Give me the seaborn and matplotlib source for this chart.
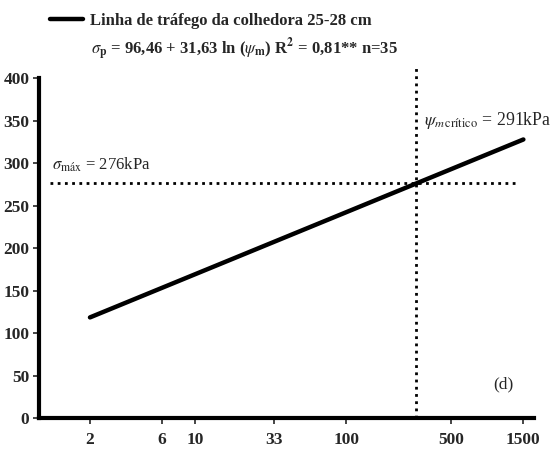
import numpy as np
import pandas as pd
import matplotlib
matplotlib.use("Agg")
import matplotlib.pyplot as plt
import seaborn as sns

# DATA
psi_m = [2, 1500]                 # kPa, ends of the fitted line
sigma_p = [118.4, 327.8]          # kPa
sigma_max = 276
psi_crit = 291
x_ticks = [2, 6, 10, 33, 100, 500, 1500]
y_ticks = [0, 50, 100, 150, 200, 250, 300, 350, 400]

df = pd.DataFrame({"psi": psi_m, "sigma": sigma_p})

sns.set_style("white")
plt.rcParams["font.family"] = ["Liberation Serif", "DejaVu Serif"]
plt.rcParams["mathtext.fontset"] = "stix"

fig = plt.figure(figsize=(5.59, 4.49), dpi=100)
ax = fig.add_axes([0.070, 0.069, 0.885, 0.757])

sns.lineplot(data=df, x="psi", y="sigma", ax=ax, color="black", lw=3.2,
             label="Linha de tráfego da colhedora 25-28 cm")
ax.set_xscale("log")
ax.set_xlim(0.92, 1760)
ax.set_ylim(0, 400)

# dotted reference lines
ax.hlines(sigma_max, 1.08, 1410, colors="black", linestyles=(0, (1, 1.6)), lw=2)
ax.vlines(psi_crit, 0, 414, colors="black", linestyles=(0, (1, 1.6)), lw=2, clip_on=False)

ax.set_xticks(x_ticks)
ax.set_xticklabels([str(t) for t in x_ticks])
ax.xaxis.set_minor_locator(matplotlib.ticker.NullLocator())
ax.set_yticks(y_ticks)
ax.tick_params(axis="both", direction="out", length=4, width=1.2, labelsize=12.5,
               bottom=True, left=True)
for lab in ax.get_xticklabels() + ax.get_yticklabels():
    lab.set_fontweight("bold")
ax.tick_params(axis="x", pad=6)
ax.tick_params(axis="y", pad=3)
ax.set_xlabel("")
ax.set_ylabel("")

for s in ["top", "right"]:
    ax.spines[s].set_visible(False)
for s in ["left", "bottom"]:
    ax.spines[s].set_linewidth(3)
    ax.spines[s].set_color("black")

ax.text(1.12, 292, r"$\sigma_{\mathrm{máx}}$ = 276kPa", fontsize=12)
ax.text(330, 345, r"$\psi_{m\,\mathrm{crítico}}$ = 291kPa", fontsize=12.8)
ax.text(940, 35, "(d)", fontsize=12.5)

leg = ax.legend(loc="upper left", bbox_to_anchor=(0.062, 1.005), bbox_transform=fig.transFigure,
                frameon=False, handlelength=2.0, handletextpad=0.45,
                prop={"weight": "bold", "size": 12})

fig.text(0.163, 0.878,
         r"$\sigma_\mathbf{p}$ = 96,46 + 31,63 ln ($\psi_\mathbf{m}$) R$^\mathbf{2}$ = 0,81** n=35",
         fontsize=12, fontweight="bold")

plt.savefig("out.png", dpi=100)
